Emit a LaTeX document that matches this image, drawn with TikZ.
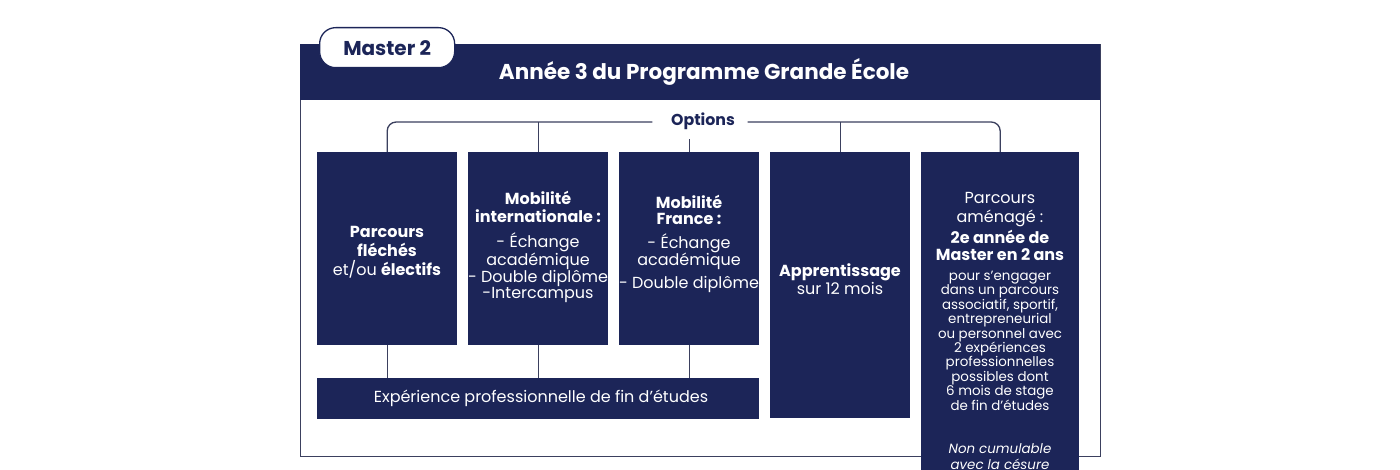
\documentclass[tikz,border=0pt]{standalone}
\usepackage{fontspec}
\setmainfont{Poppins}
\definecolor{navy}{HTML}{1C2558}
\definecolor{framec}{HTML}{3B405E}
\newcommand{\fs}[2]{\fontsize{#1}{#2}\selectfont}
\newcommand{\bigln}[1]{{\fontsize{16}{14.4}\selectfont #1}}
\begin{document}
\begin{tikzpicture}[x=1pt,y=-1pt,
  box/.style={fill=navy, draw=none, text=white, align=center, inner sep=0pt, anchor=north west, minimum width=140},
  conn/.style={draw=framec, line width=1.3pt},
  ]
\useasboundingbox (0,0) rectangle (1400,470);
\clip (0,0) rectangle (1400,470);
\fill[white] (0,0) rectangle (1400,470);
% frame and header
\node[draw=framec, line width=1.4pt, minimum width=800, minimum height=412, anchor=north west, inner sep=0pt] (frm) at (300,44) {};
\node[fill=navy, minimum width=800, minimum height=56, anchor=north west, inner sep=0pt] (head) at (300,44) {};
\node[text=white, font=\fs{21.5}{24}\bfseries] (title) at (704,72) {Année 3 du Programme Grande École};
\node[draw=navy, line width=1.3pt, fill=white, rounded corners=16, minimum width=135, minimum height=40, anchor=north west, inner sep=0pt, text=navy, font=\fs{20}{22}\bfseries] (tab) at (319,27) {Master 2};
% options
\node[minimum width=95, minimum height=34, inner sep=0pt] (opt) at (700,122) {};
\node[text=navy, font=\fs{15.8}{18}\bfseries, inner sep=0pt] (optt) at (703,121) {Options};
% boxes
\node[box, minimum height=193] (b1) at (317,152) {};
\node[text=white, align=center, inner sep=0pt, font=\fs{16}{19}] (b1t) at (387,252) {\textbf{Parcours}\\\textbf{fléchés}\\et/ou \textbf{électifs}};
\node[box, minimum height=193] (b2) at (468,152) {};
\node[text=white, align=center, inner sep=0pt, font=\fs{16}{16.5}] (b2t) at (538,247) {\textbf{Mobilité}\\[1.5pt]\textbf{internationale :}\\[9pt]- Échange\\académique\\- Double diplôme\\-Intercampus};
\node[box, minimum height=193] (b3) at (619,152) {};
\node[text=white, align=center, inner sep=0pt, font=\fs{16}{16}] (b3t) at (689,243.5) {\textbf{Mobilité}\\\textbf{France :}\\[8pt]- Échange\\académique\\[5pt]- Double diplôme};
\node[box, minimum height=266] (b4) at (770,152) {};
\node[text=white, align=center, inner sep=0pt, font=\fs{16}{18}] (b4t) at (840,279) {\textbf{Apprentissage}\\sur 12 mois};
\node[box, minimum width=158, minimum height=330] (b5) at (921,152) {};
\node[text=white, align=center, anchor=north, inner sep=0pt, font=\fs{13.4}{14.4}] (b5t) at (1000,192) {\bigln{Parcours}\\[5pt]\bigln{aménagé :}\\[1.6pt]\bigln{\textbf{2e année de}}\\[3pt]\bigln{\textbf{Master en 2 ans}}\\[5.6pt]pour s’engager\\dans un parcours\\associatif, sportif,\\entrepreneurial\\ou personnel avec\\2 expériences\\professionnelles\\possibles dont\\6 mois de stage\\de fin d’études\\[28.6pt]\textit{Non cumulable}\\[2.5pt]\textit{avec la césure}};
\node[box, minimum width=442, minimum height=41] (exp) at (317,378) {};
\node[text=white, inner sep=0pt, font=\fs{16}{18}] (expt) at (541,398) {Expérience professionnelle de fin d’études};
% connectors
\draw[conn, rounded corners=9] (b1.north) -- (b1.north |- opt) -- (opt.west);
\draw[conn, rounded corners=9] (b5.north) -- (b5.north |- opt) -- (opt.east);
\draw[conn] (b2.north) -- (b2.north |- opt);
\draw[conn] (b4.north) -- (b4.north |- opt);
\draw[conn] (b3.north) -- (b3.north |- opt.south);
\draw[conn] (b1.south) -- (b1.south |- exp.north);
\draw[conn] (b2.south) -- (b2.south |- exp.north);
\draw[conn] (b3.south) -- (b3.south |- exp.north);
\end{tikzpicture}
\end{document}
